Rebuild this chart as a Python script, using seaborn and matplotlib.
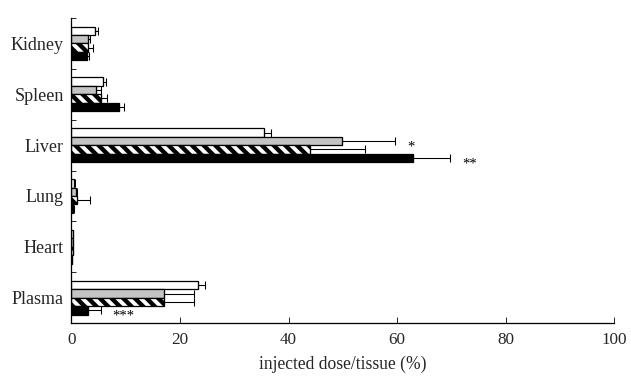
import numpy as np
import pandas as pd
import seaborn as sns
import matplotlib.pyplot as plt

organs = ['Kidney', 'Spleen', 'Liver', 'Lung', 'Heart', 'Plasma']
groups = ['white', 'gray', 'hatched', 'black']

white = [4.4, 5.8, 35.4, 0.5, 0.2, 23.3]
white_err = [0.4, 0.5, 1.3, 0.1, 0.05, 1.3]
gray = [3.1, 4.6, 49.8, 0.8, 0.2, 17.0]
gray_err = [0.3, 0.8, 9.9, 0.2, 0.05, 5.6]
hatched = [3.1, 5.4, 43.9, 1.0, 0.2, 17.0]
hatched_err = [0.8, 1.2, 10.2, 2.5, 0.05, 5.6]
black = [2.9, 8.7, 62.9, 0.3, 0.1, 3.0]
black_err = [0.3, 0.9, 6.9, 0.1, 0.05, 2.4]

# significance marks: (group, organ, text)
marks = [('gray', 'Liver', '*'), ('black', 'Liver', '**'), ('black', 'Plasma', '***')]

values = {'white': white, 'gray': gray, 'hatched': hatched, 'black': black}
errors = {'white': white_err, 'gray': gray_err, 'hatched': hatched_err, 'black': black_err}

rows = []
for g in groups:
    for o, v, e in zip(organs, values[g], errors[g]):
        rows.append({'organ': o, 'group': g, 'value': v, 'err': e})
df = pd.DataFrame(rows)

sns.set_style('ticks')
plt.rcParams['font.family'] = ['Liberation Serif', 'DejaVu Serif']
plt.rcParams['hatch.linewidth'] = 4.5
plt.rcParams['hatch.color'] = 'black'

fig = plt.figure(figsize=(631 / 70, 382 / 70), dpi=70)
ax = fig.add_axes([0.1133, 0.154, 0.86, 0.799])

sns.barplot(data=df, y='organ', x='value', hue='group', order=organs,
            hue_order=groups, orient='h', errorbar=None, width=0.66,
            legend=False, ax=ax)

faces = {'white': 'white', 'gray': '#c4c4c4', 'hatched': 'white', 'black': 'black'}
for g, cont in zip(groups, ax.containers):
    for bar, e in zip(cont, errors[g]):
        bar.set_facecolor(faces[g])
        bar.set_edgecolor('black')
        bar.set_linewidth(1.3)
        if g == 'hatched':
            bar.set_hatch('\\\\')
        y = bar.get_y() + bar.get_height() / 2
        x = bar.get_width()
        ax.errorbar(x, y, xerr=[[0], [e]], fmt='none', ecolor='black',
                    elinewidth=1.1, capsize=4, capthick=1.1)

for g, o, t in marks:
    gi = groups.index(g)
    oi = organs.index(o)
    bar = ax.containers[gi][oi]
    x = values[g][oi] + errors[g][oi] + 2.2
    y = bar.get_y() + bar.get_height() / 2 + 0.12
    ax.text(x, y, t, ha='left', va='center', fontsize=15, color='black')

ax.set_xlim(0, 100)
ax.set_ylim(5.5, -0.5)
ax.set_xticks([0, 20, 40, 60, 80, 100])
ax.set_yticks(range(len(organs)))
ax.set_yticklabels(organs)
ax.set_yticks(np.arange(-0.5, 5.5, 1), minor=True)
ax.tick_params(axis='y', which='major', length=0, pad=8, labelsize=18.5)
ax.tick_params(axis='y', which='minor', direction='in', length=5, width=1)
ax.tick_params(axis='x', direction='in', length=6, width=1, pad=9, labelsize=17.5)
sns.despine(ax=ax)
for s in ['left', 'bottom']:
    ax.spines[s].set_linewidth(1.3)
    ax.spines[s].set_color('black')

ax.set_ylabel('')
ax.set_xlabel('injected dose/tissue (%)', fontsize=18, labelpad=8)

fig.savefig('out.png', dpi=70)
